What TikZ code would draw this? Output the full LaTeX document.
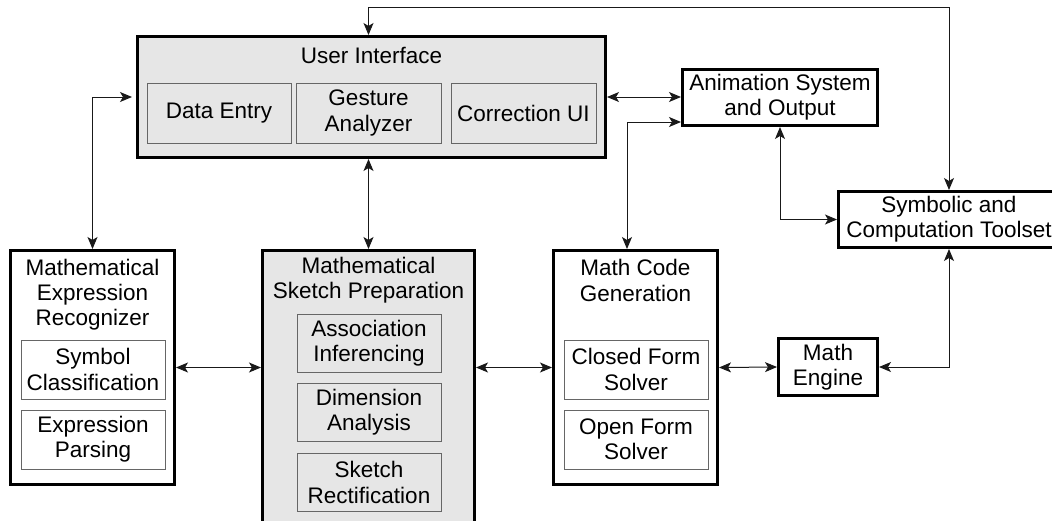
\documentclass[tikz,border=0pt]{standalone}
\usepackage{fontspec}
\setmainfont{Liberation Sans}
\usetikzlibrary{arrows.meta,calc}
\definecolor{boxgray}{HTML}{E6E6E6}
\definecolor{innerline}{HTML}{666666}
\begin{document}
\begin{tikzpicture}[x=1pt,y=-1pt,
  font=\fontsize{22.5}{25.3}\selectfont,
  bigbox/.style={draw=black,line width=3pt,inner sep=0pt,rectangle},
  graybig/.style={bigbox,fill=boxgray},
  whitebig/.style={bigbox,fill=white},
  subbox/.style={draw=innerline,line width=1pt,inner sep=0pt,align=center,
    minimum width=144pt,minimum height=58pt},
  title/.style={inner sep=0pt,align=center},
  conn/.style={draw=black!90,line width=1pt,
    {Stealth[length=12pt,width=10pt,inset=3pt]}-{Stealth[length=12pt,width=10pt,inset=3pt]}}
]
\useasboundingbox (0,0) rectangle (1052,520);
\clip (0,0) rectangle (1052,520);

% User Interface
\node[graybig,minimum width=468pt,minimum height=121pt] (ui) at (371.5,97) {};
\node[title] (uit) at (371.5,55) {User Interface};
\node[subbox,minimum width=144pt,minimum height=60pt] (de) at (219,113) {Data Entry};
\node[subbox,minimum width=145pt,minimum height=60pt] (gest) at (368.5,113) {Gesture\\Analyzer};
\node[subbox,minimum width=145pt,minimum height=60pt] (cui) at (523.5,113) {Correction UI};

% Animation System
\node[whitebig,minimum width=195pt,minimum height=56pt,align=center] (anim) at (780,97.5) {Animation System\\and Output};

% Symbolic
\node[whitebig,minimum width=221pt,minimum height=56pt,align=center] (sym) at (949,219.5) {Symbolic and\\Computation Toolset};

% Mathematical Expression Recognizer
\node[whitebig,minimum width=164pt,minimum height=234pt] (mer) at (92.5,367.5) {};
\node[title] (mert) at (92.5,294.5) {Mathematical\\Expression\\Recognizer};
\node[subbox,minimum height=59pt] (sc) at (93,369.5) {Symbol\\Classification};
\node[subbox,minimum height=59pt] (ep) at (93,439.5) {Expression\\Parsing};

% Mathematical Sketch Preparation
\node[graybig,minimum width=212pt,minimum height=283pt] (msp) at (368.5,392) {};
\node[title] (mspt) at (368.5,280.5) {Mathematical\\Sketch Preparation};
\node[subbox,fill=boxgray] (ai) at (369,343) {Association\\Inferencing};
\node[subbox,fill=boxgray] (da) at (369,412.5) {Dimension\\Analysis};
\node[subbox,fill=boxgray] (sr) at (369,482.5) {Sketch\\Rectification};

% Math Code Generation
\node[whitebig,minimum width=164pt,minimum height=234pt] (mcg) at (635.5,367.5) {};
\node[title] (mcgt) at (635.5,280.5) {Math Code\\Generation};
\node[subbox,minimum height=59pt] (cfs) at (636,369.5) {Closed Form\\Solver};
\node[subbox,minimum height=59pt] (ofs) at (636,439.5) {Open Form\\Solver};

% Math Engine
\node[whitebig,minimum width=99pt,minimum height=57pt,align=center] (me) at (828,367) {Math\\Engine};

% helper coordinates
\coordinate (topline) at (0,7);
\coordinate (mcgup) at (627,122);

% Connectors
\draw[conn] (gest |- ui.north) -- (gest |- topline) -| (sym.north);
\draw[conn] (gest |- ui.south) -- (gest |- msp.north);
\draw[conn,shorten >=4pt] (mer.north) |- (ui.west);
\draw[conn] (ui.east) -- (ui.east -| anim.west);
\draw[conn] (mcgup |- mcg.north) |- (mcgup -| anim.west);
\draw[conn] (anim.south) |- (sym.west);
\draw[conn] (mer.east) -- (mer.east -| msp.west);
\draw[conn] (mcg.west -| msp.east) -- (mcg.west);
\draw[conn] (mcg.east) -- (me.west);
\draw[conn] (me.east) -| (sym.south);
\end{tikzpicture}
\end{document}
